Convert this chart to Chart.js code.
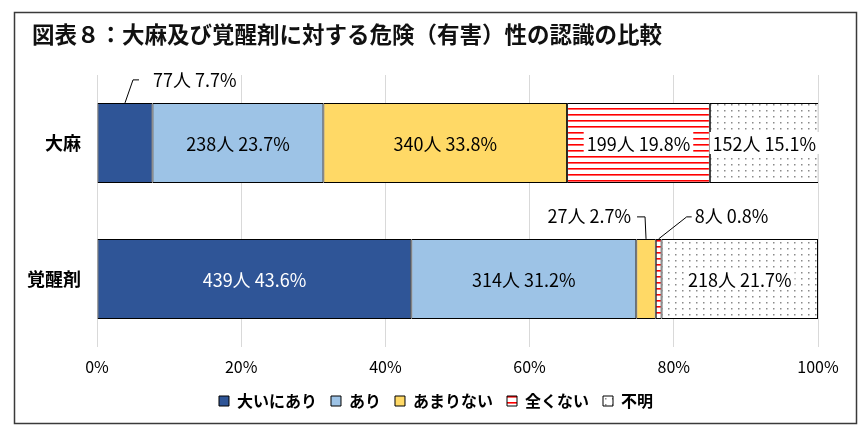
<!DOCTYPE html>
<html lang="ja">
<head>
<meta charset="utf-8">
<script src="https://cdn.jsdelivr.net/npm/chart.js@4.4.1/dist/chart.umd.min.js"></script>
<style>
  html, body { margin: 0; padding: 0; background: #fff; }
  #wrap { width: 861px; height: 437px; }
</style>
</head>
<body>
<div id="wrap"><canvas id="myChart" width="861" height="437"></canvas></div>
<script>
// data
const categories = ['大麻', '覚醒剤'];
const seriesNames = ['大いにあり', 'あり', 'あまりない', '全くない', '不明'];

const pctOini = [7.7, 43.6];
const pctAri = [23.7, 31.2];
const pctAmari = [33.8, 2.7];
const pctMattaku = [19.8, 0.8];
const pctFumei = [15.1, 21.7];

const cntOini = [77, 439];
const cntAri = [238, 314];
const cntAmari = [340, 27];
const cntMattaku = [199, 8];
const cntFumei = [152, 218];

const tickValues = [0, 20, 40, 60, 80, 100];

const titleText = '図表８：大麻及び覚醒剤に対する危険（有害）性の認識の比較';

document.addEventListener('DOMContentLoaded', function () {
    const canvas = document.getElementById('myChart');
    const ctx = canvas.getContext('2d');

    const JP = '"Noto Sans CJK JP", sans-serif';
    const NARROW = '"Liberation Sans Narrow", "Noto Sans CJK JP", sans-serif';

    function stripes() {
        const c = document.createElement('canvas');
        c.width = 6; c.height = 6;
        const g = c.getContext('2d');
        g.fillStyle = '#fff';
        g.fillRect(0, 0, 6, 6);
        g.fillStyle = '#ff0000';
        g.fillRect(0, 0, 6, 1.6);
        return ctx.createPattern(c, 'repeat');
    }

    function dots() {
        const c = document.createElement('canvas');
        c.width = 7; c.height = 6;
        const g = c.getContext('2d');
        g.fillStyle = '#fff';
        g.fillRect(0, 0, 7, 6);
        g.fillStyle = '#8a8a8a';
        g.fillRect(3, 2, 1.5, 1.5);
        return ctx.createPattern(c, 'repeat');
    }

    const counts = [cntOini, cntAri, cntAmari, cntMattaku, cntFumei];
    const patterned = [false, false, false, true, true];

    // labels that sit outside their bar, with a leader line
    const outside = {
        '0,0': { dx: 28, align: 'left', lead: [[0, 0], [8, -23], [14, -23]] },
        '2,1': { dx: -15, align: 'right', lead: [[0, 0], [-1, -22], [-9, -22]] },
        '3,1': { dx: 36, align: 'left', lead: [[0, 0], [28, -22], [33, -22]] }
    };

    const frame = {
        id: 'frame',
        afterLayout(chart) {
            // legend sits a little right of centre in the original
            chart.legend.left += 17;
            chart.legend.right += 17;
        },
        beforeDraw(chart) {
            const c = chart.ctx;
            c.save();
            c.fillStyle = '#fff';
            c.fillRect(0, 0, chart.width, chart.height);
            c.strokeStyle = '#3a3a3a';
            c.lineWidth = 1.5;
            c.strokeRect(14.5, 12.5, 842, 411);
            c.fillStyle = '#111';
            c.font = 'bold 22.5px ' + JP;
            c.textBaseline = 'middle';
            c.textAlign = 'left';
            c.fillText(titleText, 32, 34);
            c.restore();
        }
    };

    const barLabels = {
        id: 'barLabels',
        afterDatasetsDraw(chart) {
            const c = chart.ctx;
            c.save();
            c.font = '18px ' + NARROW;
            c.textBaseline = 'middle';
            chart.data.datasets.forEach(function (ds, di) {
                const meta = chart.getDatasetMeta(di);
                meta.data.forEach(function (el, i) {
                    const p = el.getProps(['x', 'base', 'y', 'height'], true);
                    const txt = counts[di][i] + '人 ' + ds.data[i].toFixed(1) + '%';
                    const cx = (p.x + p.base) / 2;
                    const top = p.y - p.height / 2;
                    const o = outside[di + ',' + i];
                    if (o) {
                        c.strokeStyle = '#000';
                        c.lineWidth = 1;
                        c.beginPath();
                        o.lead.forEach(function (pt, k) {
                            const px = cx + pt[0], py = top + pt[1];
                            if (k === 0) c.moveTo(px, py); else c.lineTo(px, py);
                        });
                        c.stroke();
                        c.fillStyle = '#000';
                        c.textAlign = o.align;
                        c.fillText(txt, cx + o.dx, top - 23);
                        return;
                    }
                    c.textAlign = 'center';
                    if (patterned[di]) {
                        const w = c.measureText(txt).width + 6;
                        c.fillStyle = '#fff';
                        c.fillRect(cx - w / 2, p.y - 11, w, 22);
                    }
                    c.fillStyle = di === 0 ? '#fff' : '#000';
                    c.fillText(txt, cx, p.y + 1);
                });
            });
            c.restore();
        }
    };

    new Chart(ctx, {
        type: 'bar',
        data: {
            labels: categories,
            datasets: [
                { label: seriesNames[0], data: pctOini, backgroundColor: '#2f5597' },
                { label: seriesNames[1], data: pctAri, backgroundColor: '#9dc3e6' },
                { label: seriesNames[2], data: pctAmari, backgroundColor: '#ffd966' },
                { label: seriesNames[3], data: pctMattaku, backgroundColor: stripes() },
                { label: seriesNames[4], data: pctFumei, backgroundColor: dots() }
            ].map(function (d) {
                d.borderColor = '#000';
                d.borderWidth = 1;
                d.borderSkipped = false;
                d.categoryPercentage = 0.59;
                d.barPercentage = 1;
                return d;
            })
        },
        options: {
            indexAxis: 'y',
            responsive: false,
            animation: false,
            devicePixelRatio: 1,
            layout: { padding: { left: 20, right: 43, top: 75, bottom: 18 } },
            scales: {
                x: {
                    stacked: true,
                    min: 0,
                    max: 100,
                    border: { display: false },
                    grid: { color: '#d9d9d9', drawTicks: false },
                    afterBuildTicks: function (axis) {
                        axis.ticks = tickValues.map(function (v) { return { value: v }; });
                    },
                    afterFit: function (axis) { axis.height = 32; },
                    ticks: {
                        padding: 10,
                        color: '#000',
                        font: { family: NARROW, size: 16 },
                        callback: function (v) { return v + '%'; }
                    }
                },
                y: {
                    stacked: true,
                    border: { display: false },
                    grid: { display: false, drawTicks: false },
                    afterFit: function (axis) { axis.width = 77; },
                    ticks: {
                        padding: 16,
                        color: '#000',
                        font: { family: JP, size: 18, weight: 'bold' }
                    }
                }
            },
            plugins: {
                legend: {
                    position: 'bottom',
                    labels: {
                        boxWidth: 10,
                        boxHeight: 10,
                        padding: 14,
                        color: '#000',
                        font: { family: JP, size: 16, weight: 'bold' }
                    }
                },
                tooltip: { enabled: false },
                title: { display: false }
            }
        },
        plugins: [frame, barLabels]
    });
});
</script>
</body>
</html>
